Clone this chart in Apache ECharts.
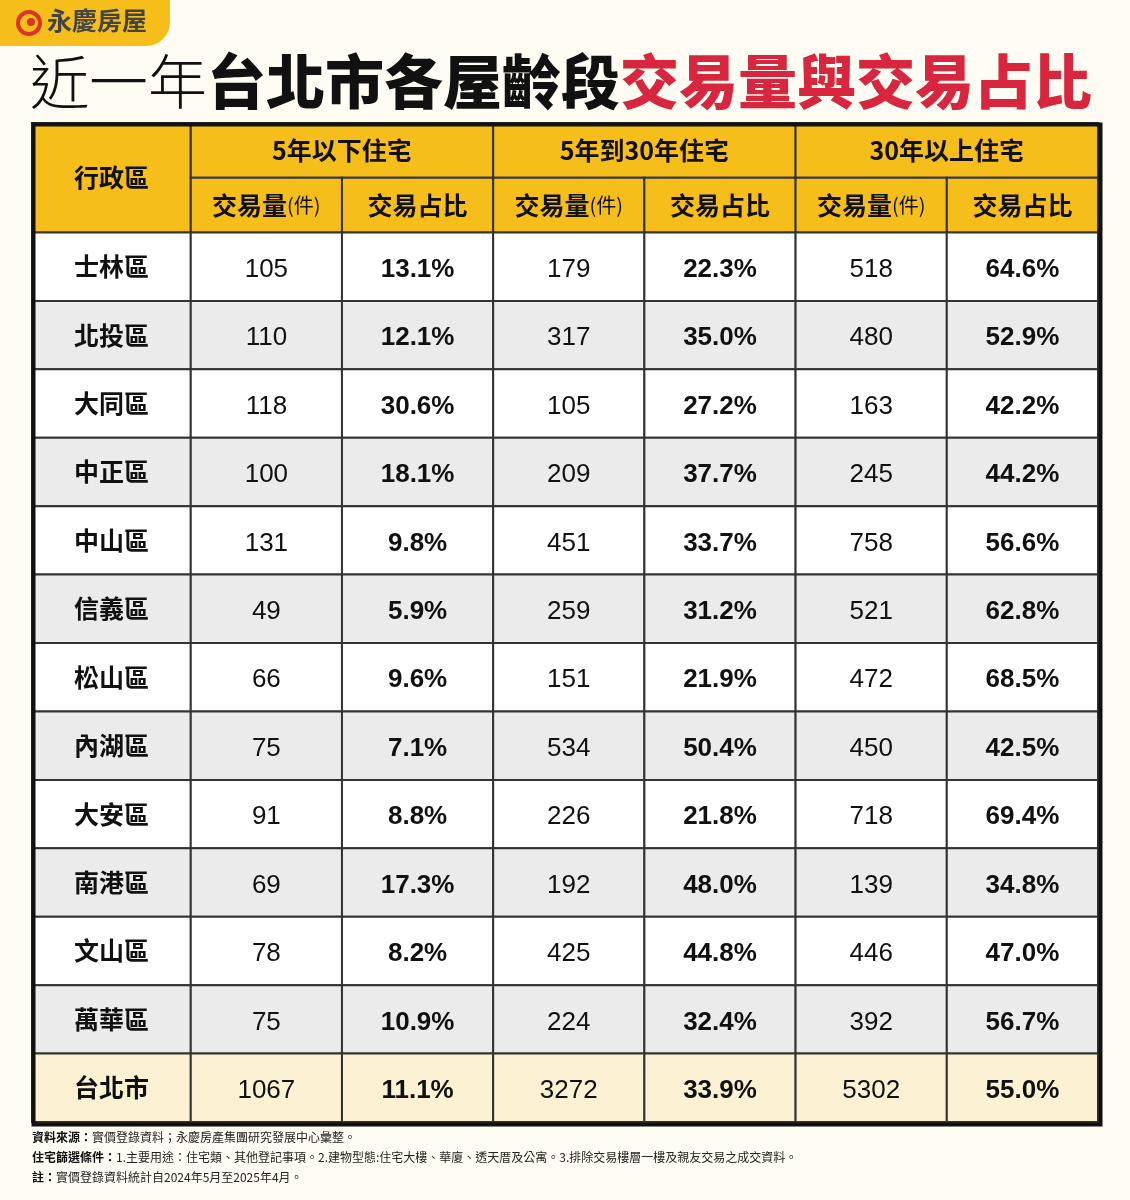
<!DOCTYPE html>
<html><head><meta charset="utf-8">
<script src="https://cdn.jsdelivr.net/npm/echarts@6/dist/echarts.min.js"></script>
<style>body{margin:0;background:#FFFDF3}#main{width:1130px;height:1200px}</style>
</head><body><div id="main"></div>
<script>
var districts=['士林區','北投區','大同區','中正區','中山區','信義區','松山區','內湖區','大安區','南港區','文山區','萬華區','台北市'];
var under5Count=[105,110,118,100,131,49,66,75,91,69,78,75,1067];
var under5Pct=['13.1%','12.1%','30.6%','18.1%','9.8%','5.9%','9.6%','7.1%','8.8%','17.3%','8.2%','10.9%','11.1%'];
var mid30Count=[179,317,105,209,451,259,151,534,226,192,425,224,3272];
var mid30Pct=['22.3%','35.0%','27.2%','37.7%','33.7%','31.2%','21.9%','50.4%','21.8%','48.0%','44.8%','32.4%','33.9%'];
var over30Count=[518,480,163,245,758,521,472,450,718,139,446,392,5302];
var over30Pct=['64.6%','52.9%','42.2%','44.2%','56.6%','62.8%','68.5%','42.5%','69.4%','34.8%','47.0%','56.7%','55.0%'];
var groups=['5年以下住宅','5年到30年住宅','30年以上住宅'];

var FONT='"Noto Sans CJK TC","Noto Sans",sans-serif';
var NUMFONT='"Liberation Sans","Noto Sans CJK TC",sans-serif';
var HR=0.8; // header row height in row units
var W0=1.05; // first column is a bit wider
function cx(c){return c===0?0:W0+(c-1);}
var cells=[];
cells.push([cx(0),cx(1),0,2*HR,'行政區','head']);
groups.forEach(function(g,i){
  cells.push([cx(1+2*i),cx(3+2*i),0,HR,g,'head']);
  cells.push([cx(1+2*i),cx(2+2*i),HR,2*HR,'交易量{s|(件)}','head']);
  cells.push([cx(2+2*i),cx(3+2*i),HR,2*HR,'交易占比','head']);
});
districts.forEach(function(d,r){
  var kind=r===districts.length-1?'total':(r%2?'gray':'white');
  var y0=2*HR+r,y1=y0+1;
  var row=[d,under5Count[r],under5Pct[r],mid30Count[r],mid30Pct[r],over30Count[r],over30Pct[r]];
  row.forEach(function(v,c){
    cells.push([cx(c),cx(c+1),y0,y1,String(v),kind,c===0?'name':(c%2===0?'bold':'normal')]);
  });
});
var fills={head:'#F6BE1B',white:'#FFFFFF',gray:'#EBEBEB',total:'#FCF1D2'};

var chart=echarts.init(document.getElementById('main'));
chart.setOption({
  backgroundColor:'#FFFDF3',
  grid:{left:32,top:123,width:1066,height:999},
  xAxis:{type:'value',min:0,max:cx(7),show:false},
  yAxis:{type:'value',min:0,max:2*HR+districts.length,inverse:true,show:false},
  series:[{
    type:'custom',
    data:cells,
    renderItem:function(params,api){
      var p0=api.coord([api.value(0),api.value(2)]);
      var p1=api.coord([api.value(1),api.value(3)]);
      var d=cells[params.dataIndex];
      var kind=d[5];
      var head=kind==='head';
      var font,dy=0;
      if(head||d[6]==='name') font='bold 25px '+FONT;
      else if(d[6]==='bold'){font='bold 26px '+NUMFONT;dy=3;}
      else {font='26px '+NUMFONT;dy=3;}
      return {type:'group',children:[
        {type:'rect',shape:{x:p0[0],y:p0[1],width:p1[0]-p0[0],height:p1[1]-p0[1]},
         style:{fill:fills[kind],stroke:'#333',lineWidth:2}},
        {type:'text',x:(p0[0]+p1[0])/2,y:(p0[1]+p1[1])/2+dy,
         style:{text:d[4],fill:'#111',align:'center',verticalAlign:'middle',font:font,
           rich:{s:{font:'20px '+FONT,fill:'#111'}}}}
      ]};
    },
    silent:true,animation:false
  }],
  graphic:[
    {type:'rect',left:31,top:122,shape:{width:1067,height:1000},style:{fill:'none',stroke:'#111',lineWidth:4},z:100},
    {type:'rect',left:-20,top:-20,shape:{width:190,height:66,r:[0,0,24,0]},style:{fill:'#F6BE1B'}},
    {type:'circle',shape:{cx:29,cy:23,r:11},style:{fill:'none',stroke:'#D9352A',lineWidth:4}},
    {type:'circle',shape:{cx:31,cy:22,r:4},style:{fill:'#D9352A'}},
    {type:'text',left:47,top:8,style:{text:'永慶房屋',font:'bold 25px '+FONT,fill:'#444'}},
    {type:'text',left:30,top:52,style:{text:'{a|近一年}{b|台北市各屋齡段}{c|交易量與交易占比}',
      rich:{a:{font:'300 59px '+FONT,fill:'#111'},b:{font:'900 59px '+FONT,fill:'#111'},c:{font:'900 59px '+FONT,fill:'#D7263D'}}}},
    {type:'text',left:32,top:1131,style:{text:'{b|資料來源：}實價登錄資料；永慶房產集團研究發展中心彙整。',font:'12px '+FONT,fill:'#222',rich:{b:{font:'bold 12px '+FONT,fill:'#111'}}}},
    {type:'text',left:32,top:1151,style:{text:'{b|住宅篩選條件：}1.主要用途：住宅類、其他登記事項。2.建物型態:住宅大樓、華廈、透天厝及公寓。3.排除交易樓層一樓及親友交易之成交資料。',font:'12px '+FONT,fill:'#222',rich:{b:{font:'bold 12px '+FONT,fill:'#111'}}}},
    {type:'text',left:32,top:1171,style:{text:'{b|註：}實價登錄資料統計自2024年5月至2025年4月。',font:'12px '+FONT,fill:'#222',rich:{b:{font:'bold 12px '+FONT,fill:'#111'}}}}
  ]
});
</script></body></html>
